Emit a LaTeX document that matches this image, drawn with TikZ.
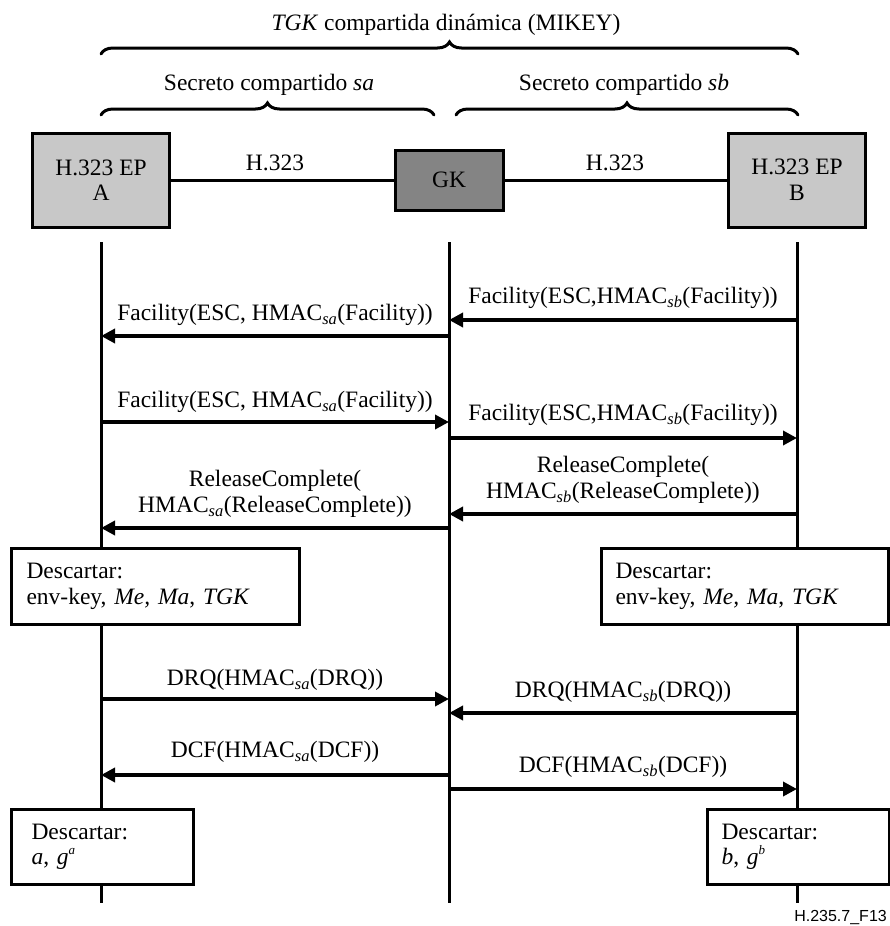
\documentclass[tikz,border=0pt]{standalone}
\usepackage{fontspec}
\setmainfont{Liberation Serif}
\newfontfamily\figsans{Liberation Sans}
\usetikzlibrary{arrows.meta,decorations.pathreplacing}
\definecolor{epgray}{RGB}{200,200,200}
\definecolor{gkgray}{RGB}{132,132,132}
\newcommand{\sbsc}[1]{\textsubscript{\textit{#1}}}
\newcommand{\spsc}[1]{\raisebox{0.45em}{\fontsize{13}{13}\selectfont\textit{#1}}}
\begin{document}
\begin{tikzpicture}[x=1pt,y=-1pt,
  font=\fontsize{23.5}{25.5}\selectfont,
  ent/.style={draw, line width=3pt, minimum width=137pt, minimum height=94pt, inner sep=0pt, align=center, fill=epgray},
  gkbox/.style={draw, line width=3pt, minimum width=108pt, minimum height=60pt, inner sep=0pt, fill=gkgray},
  life/.style={line width=3pt},
  link/.style={line width=3pt},
  msg/.style={line width=3.5pt, -{Triangle[length=14pt,width=14pt]}},
  lbl/.style={inner sep=0pt, align=center},
  note/.style={draw, line width=3pt, fill=white, align=left, anchor=north west, inner ysep=0pt},
  brc/.style={decorate, decoration={brace, amplitude=12pt}, line width=3pt, line cap=round}
]
\useasboundingbox (0,0) rectangle (889,926);

% title and braces
\node[lbl] (title) at (446,25) {\textit{TGK} compartida dinámica (MIKEY)};
\coordinate (bigL) at (101,54);
\coordinate (bigR) at (798,54);
\draw[brc] (bigL) -- (bigR);
\node[lbl] (seca) at (269,85) {Secreto compartido \textit{sa}};
\node[lbl] (secb) at (624,85) {Secreto compartido \textit{sb}};
\coordinate (saL) at (101,115);
\coordinate (saR) at (434,115);
\coordinate (sbL) at (456,115);
\coordinate (sbR) at (798,115);
\draw[brc] (saL) -- (saR);
\draw[brc] (sbL) -- (sbR);

% entities
\node[ent] (A) at (101,180) {H.323 EP\\A};
\node[gkbox] (GK) at (449,180) {GK};
\node[ent] (B) at (797,180) {H.323 EP\\B};
\draw[link] (A.east) -- (GK.west);
\draw[link] (GK.east) -- (B.west);
\node[lbl] (h1) at (275,163) {H.323};
\node[lbl] (h2) at (615,163) {H.323};

% lifelines
\draw[life] (A |- 0,242) -- (A |- 0,903);
\draw[life] (GK |- 0,242) -- (GK |- 0,903);
\draw[life] (B |- 0,242) -- (B |- 0,903);

% messages
\draw[msg] (B |- 0,320) -- (GK |- 0,320) node[lbl, midway, yshift=22pt] (l1) {Facility(ESC,HMAC\sbsc{sb}(Facility))};
\draw[msg] (GK |- 0,336) -- (A |- 0,336) node[lbl, midway, yshift=21pt] (l2) {Facility(ESC, HMAC\sbsc{sa}(Facility))};
\draw[msg] (A |- 0,422) -- (GK |- 0,422) node[lbl, midway, yshift=20pt] (l3) {Facility(ESC, HMAC\sbsc{sa}(Facility))};
\draw[msg] (GK |- 0,438) -- (B |- 0,438) node[lbl, midway, yshift=23pt] (l4) {Facility(ESC,HMAC\sbsc{sb}(Facility))};
\draw[msg] (B |- 0,514) -- (GK |- 0,514) node[lbl, midway, yshift=34pt] (l5) {ReleaseComplete(\\HMAC\sbsc{sb}(ReleaseComplete))};
\draw[msg] (GK |- 0,528) -- (A |- 0,528) node[lbl, midway, yshift=34pt] (l6) {ReleaseComplete(\\HMAC\sbsc{sa}(ReleaseComplete))};

% discard boxes
\node[note, inner xsep=15pt, text width=258pt, minimum height=76pt] (dA) at (10,547) {Descartar:\\env-key, \textit{Me, Ma}, \textit{TGK}};
\node[note, inner xsep=14pt, text width=259pt, minimum height=76pt] (dB) at (600,547) {Descartar:\\env-key, \textit{Me, Ma}, \textit{TGK}};

\draw[msg] (A |- 0,699) -- (GK |- 0,699) node[lbl, midway, yshift=19pt] (l7) {DRQ(HMAC\sbsc{sa}(DRQ))};
\draw[msg] (B |- 0,713) -- (GK |- 0,713) node[lbl, midway, yshift=21pt] (l8) {DRQ(HMAC\sbsc{sb}(DRQ))};
\draw[msg] (GK |- 0,775) -- (A |- 0,775) node[lbl, midway, yshift=23pt] (l9) {DCF(HMAC\sbsc{sa}(DCF))};
\draw[msg] (GK |- 0,789) -- (B |- 0,789) node[lbl, midway, yshift=22pt] (l10) {DCF(HMAC\sbsc{sb}(DCF))};

\node[note, inner xsep=20pt, text width=142pt, minimum height=75pt] (eA) at (10,808) {Descartar:\\\textit{a}, \textit{g}\spsc{a}};
\node[note, inner xsep=14pt, text width=154pt, minimum height=75pt] (eB) at (706,808) {Descartar:\\\textit{b}, \textit{g}\spsc{b}};

\node[inner sep=0pt, anchor=east, font=\figsans\fontsize{16}{16}\selectfont] (fig) at (887,917) {H.235.7\_F13};
\end{tikzpicture}
\end{document}
